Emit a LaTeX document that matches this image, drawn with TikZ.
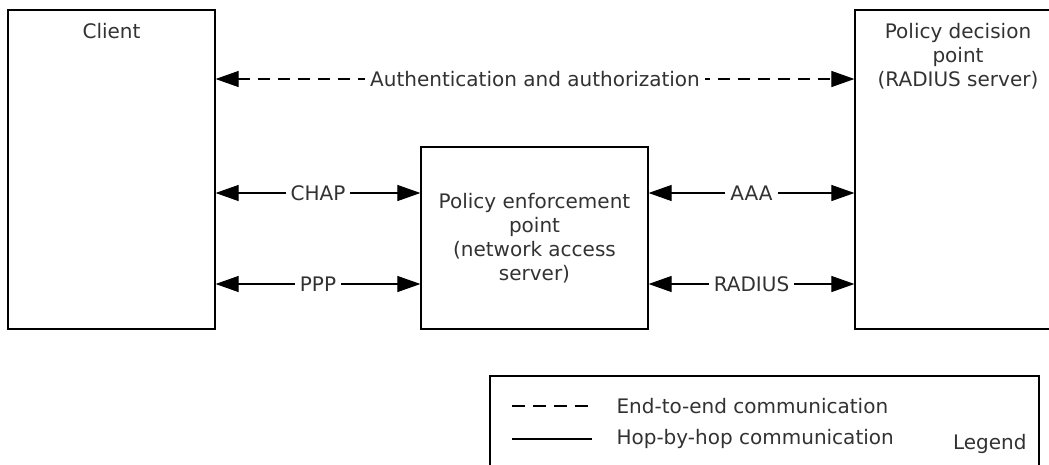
\documentclass[tikz,border=0pt]{standalone}
\usepackage{fontspec}
\setmainfont{DejaVu Sans}
\usetikzlibrary{arrows.meta,positioning}
\definecolor{txtgray}{RGB}{50,50,50}

\begin{document}
\begin{tikzpicture}[x=1pt, y=-1pt,
	box/.style={draw, line width=1.2pt, inner sep=0pt},
	txt/.style={text=txtgray, font=\fontsize{20}{24}\selectfont, align=center},
	hop/.style={line width=1.1pt, {Triangle[length=23pt,width=16pt]}-{Triangle[length=23pt,width=16pt]}},
	e2e/.style={hop, dash pattern=on 12pt off 8pt},
	tag/.style={txt, fill=white, inner xsep=5pt, inner ysep=1pt}]

% frame %{{{2

	\path[use as bounding box, clip] (0,0) rectangle (1049,464);

% parameters %{{{2

	\def\keylen{80}

% boxes %{{{2

	\node[box, minimum width=207pt, minimum height=319pt] (client) at (111.5,169.5) {};
	\node[box, minimum width=206pt, minimum height=319pt] (pdp) at (958,169.5) {};
	\node[box, minimum width=227pt, minimum height=182pt] (pep) at (534.5,238) {};
	\node[box, minimum width=549pt, minimum height=110pt] (legend) at (764.5,431) {};

% box labels %{{{2

	\node[txt] (clientlbl) at (client.north |- 0,31) {Client};
	\node[txt] (pdplbl) at (pdp.north |- 0,56) {Policy decision\\point\\(RADIUS server)};
	\node[txt] (peplbl) at (pep) {Policy enforcement\\point\\(network access\\server)};

% rows %{{{2

	\coordinate (rowauth) at (0,79);
	\coordinate (rowchap) at (0,193);
	\coordinate (rowppp) at (0,284);

% connectors %{{{2

	\draw[e2e] (client.east |- rowauth) -- node[tag] {Authentication and authorization} (pdp.west |- rowauth);

	\foreach \row/\lbl in {chap/CHAP, ppp/PPP} {
		\draw[hop] (client.east |- row\row) -- node[tag] {\lbl} (pep.west |- row\row);
	}

	\foreach \row/\lbl in {chap/AAA, ppp/RADIUS} {
		\draw[hop] (pep.east |- row\row) -- node[tag] {\lbl} (pdp.west |- row\row);
	}

% legend %{{{2

	\coordinate (keyA) at (512,406);
	\coordinate (keyB) at (512,439);

	\draw[line width=1.1pt, dash pattern=on 13pt off 8pt] (keyA) -- ++(\keylen,0);
	\draw[line width=1.1pt] (keyB) -- ++(\keylen,0);

	\node[txt, anchor=west] (keyAlbl) at (613,406) {End-to-end communication};
	\node[txt, anchor=west] (keyBlbl) at (613,439) {Hop-by-hop communication};
	\node[txt, anchor=east] (legendlbl) at (1030,444) {Legend};

% closing %{{{2

\end{tikzpicture}
\end{document}
